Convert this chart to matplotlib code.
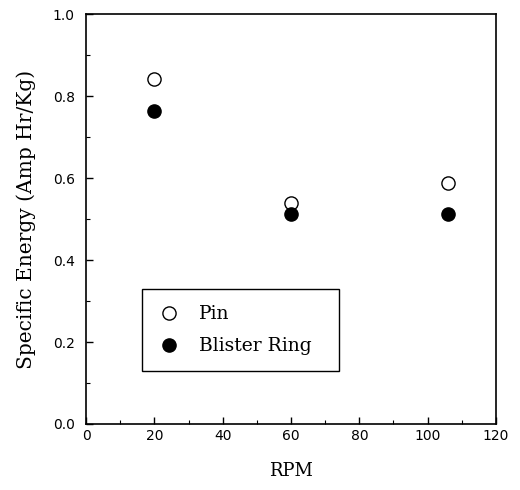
import numpy as np
import matplotlib
matplotlib.use("Agg")
import matplotlib.pyplot as plt
from matplotlib.ticker import MultipleLocator

# data
rpm = [20, 60, 106]
pin = [0.842, 0.538, 0.587]
blister = [0.763, 0.513, 0.513]

xticks = [0, 20, 40, 60, 80, 100, 120]
yticks = [0.0, 0.2, 0.4, 0.6, 0.8, 1.0]

fig = plt.figure(figsize=(5.2, 4.9), dpi=100)
ax = fig.add_axes([0.1654, 0.1347, 0.7884, 0.8367])

ax.plot(rpm, pin, 'o', ms=9.5, mfc='white', mec='black', mew=1.0, label='Pin')
ax.plot(rpm, blister, 'o', ms=9.5, mfc='black', mec='black', label='Blister Ring')

ax.set_xlim(0, 120)
ax.set_ylim(0.0, 1.0)
ax.set_xticks(xticks)
ax.set_yticks(yticks)
ax.set_xticklabels([str(t) for t in xticks], family='DejaVu Sans', fontsize=10)
ax.set_yticklabels(['%.1f' % t for t in yticks], family='DejaVu Sans', fontsize=10)
ax.xaxis.set_minor_locator(MultipleLocator(10))
ax.yaxis.set_minor_locator(MultipleLocator(0.1))
ax.tick_params(which='major', direction='in', length=5, width=1)
ax.tick_params(axis='y', which='major', pad=8)
ax.tick_params(which='minor', direction='in', length=3, width=0.8)
for s in ax.spines.values():
    s.set_linewidth(1.2)

ax.set_xlabel('RPM', family='DejaVu Serif', fontsize=13, labelpad=14)
ax.set_ylabel('Specific Energy (Amp Hr/Kg)', family='DejaVu Serif', fontsize=14.5, labelpad=12)

leg = ax.legend(loc='lower left', bbox_to_anchor=(0.137, 0.129, 0.48, 0.203), mode='expand',
                borderaxespad=0, frameon=True, fancybox=False, edgecolor='black', framealpha=1,
                prop={'family': 'DejaVu Serif', 'size': 13.5}, handletextpad=1.0,
                labelspacing=0.75, borderpad=0.85, handlelength=1.2)
leg.get_frame().set_linewidth(1.0)

fig.savefig('out.png', dpi=100)
